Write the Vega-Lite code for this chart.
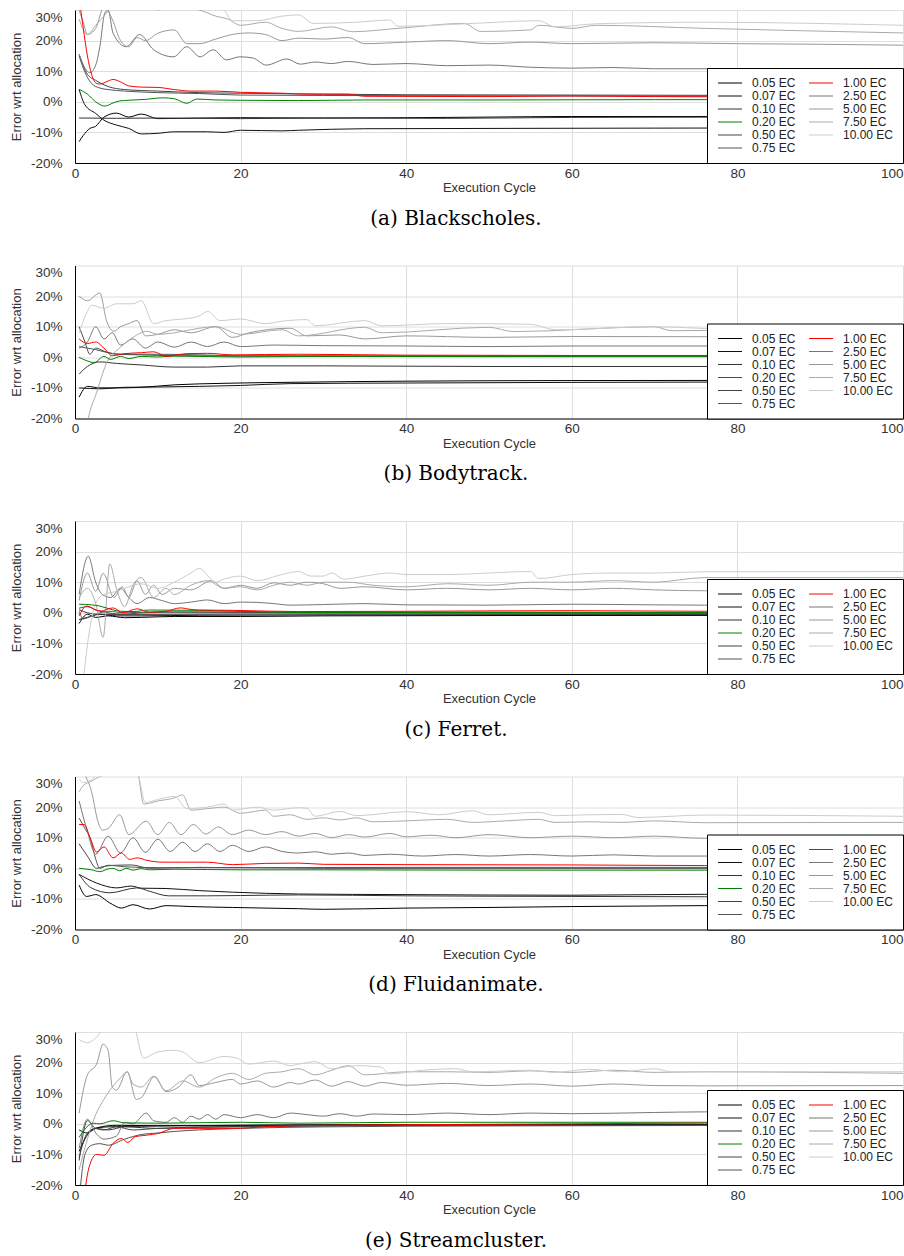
{
"$schema":"https://vega.github.io/schema/vega-lite/v6.json",
"padding":{"top":10,"left":10,"right":0,"bottom":0},
"spacing":36.5,
"config":{
"font":"Liberation Sans",
"view":{"stroke":null},
"axis":{"labelFont":"Liberation Sans","labelFontSize":13.5,"labelColor":"#333","titleFont":"Liberation Sans","titleFontSize":13,"titleFontWeight":"normal","titleColor":"#333","gridColor":"#dedede","gridWidth":1,"domainColor":"#000","domainWidth":1,"ticks":false,"tickSize":0},
"legend":{"orient":"bottom-right","offset":0,"columns":2,"labelFont":"Liberation Sans","labelFontSize":12,"labelColor":"#222","symbolType":"M-3,0H3","symbolSize":64,"symbolOffset":8,"rowPadding":1,"columnPadding":11,"labelOffset":16,"padding":9,"strokeColor":"#000","fillColor":"#fff","cornerRadius":0},
"title":{"font":"DejaVu Serif","fontSize":20,"fontWeight":"normal","color":"#000","orient":"bottom","anchor":"middle","frame":"group","offset":14,"dx":-33}
},
"resolve":{"scale":{"color":"independent","strokeWidth":"independent"},"legend":{"color":"independent"}},
"datasets":{
"a":[
{"s":"0.05 EC","x":0.5,"y":-13},{"s":"0.05 EC","x":1,"y":-11},{"s":"0.05 EC","x":1.8,"y":-8.7},{"s":"0.05 EC","x":2.5,"y":-8},{"s":"0.05 EC","x":3.5,"y":-5},{"s":"0.05 EC","x":5,"y":-3.7},{"s":"0.05 EC","x":6.5,"y":-5},{"s":"0.05 EC","x":8,"y":-4},{"s":"0.05 EC","x":10,"y":-5.5},{"s":"0.05 EC","x":15,"y":-5.3},{"s":"0.05 EC","x":20,"y":-5.2},{"s":"0.05 EC","x":30,"y":-5.3},{"s":"0.05 EC","x":40,"y":-5.2},{"s":"0.05 EC","x":50,"y":-5},{"s":"0.05 EC","x":60,"y":-4.8},{"s":"0.05 EC","x":80,"y":-4.8},{"s":"0.05 EC","x":100,"y":-4.8},
{"s":"0.07 EC","x":0.5,"y":4},{"s":"0.07 EC","x":1.2,"y":-1},{"s":"0.07 EC","x":2.5,"y":-3.8},{"s":"0.07 EC","x":3.5,"y":-6},{"s":"0.07 EC","x":5,"y":-7.6},{"s":"0.07 EC","x":6.5,"y":-8.7},{"s":"0.07 EC","x":8,"y":-10.5},{"s":"0.07 EC","x":10,"y":-10.3},{"s":"0.07 EC","x":12,"y":-9.8},{"s":"0.07 EC","x":16,"y":-9.8},{"s":"0.07 EC","x":18,"y":-10},{"s":"0.07 EC","x":20,"y":-9.3},{"s":"0.07 EC","x":25,"y":-9.5},{"s":"0.07 EC","x":27,"y":-9.3},{"s":"0.07 EC","x":35,"y":-8.8},{"s":"0.07 EC","x":50,"y":-8.7},{"s":"0.07 EC","x":70,"y":-8.6},{"s":"0.07 EC","x":100,"y":-8.5},
{"s":"0.10 EC","x":0.5,"y":-5.3},{"s":"0.10 EC","x":5,"y":-5.4},{"s":"0.10 EC","x":10,"y":-5.3},{"s":"0.10 EC","x":20,"y":-5.5},{"s":"0.10 EC","x":30,"y":-5.3},{"s":"0.10 EC","x":45,"y":-5.4},{"s":"0.10 EC","x":60,"y":-5.1},{"s":"0.10 EC","x":80,"y":-5},{"s":"0.10 EC","x":100,"y":-5},
{"s":"0.20 EC","x":0.5,"y":4.1},{"s":"0.20 EC","x":1.5,"y":2.5},{"s":"0.20 EC","x":2.5,"y":0},{"s":"0.20 EC","x":3.6,"y":-1.4},{"s":"0.20 EC","x":4.5,"y":-0.5},{"s":"0.20 EC","x":5.4,"y":0.3},{"s":"0.20 EC","x":6.5,"y":0.5},{"s":"0.20 EC","x":8.5,"y":0.8},{"s":"0.20 EC","x":10.6,"y":1.3},{"s":"0.20 EC","x":12,"y":1},{"s":"0.20 EC","x":13.5,"y":-0.5},{"s":"0.20 EC","x":14.7,"y":0.9},{"s":"0.20 EC","x":17,"y":0.6},{"s":"0.20 EC","x":20,"y":0.5},{"s":"0.20 EC","x":27,"y":0.4},{"s":"0.20 EC","x":35,"y":0.6},{"s":"0.20 EC","x":50,"y":0.6},{"s":"0.20 EC","x":70,"y":0.7},{"s":"0.20 EC","x":100,"y":0.7},
{"s":"0.50 EC","x":0.5,"y":15.5},{"s":"0.50 EC","x":1.5,"y":9},{"s":"0.50 EC","x":2.5,"y":7},{"s":"0.50 EC","x":4,"y":5},{"s":"0.50 EC","x":6,"y":4},{"s":"0.50 EC","x":10,"y":3.5},{"s":"0.50 EC","x":15,"y":3},{"s":"0.50 EC","x":20,"y":2.8},{"s":"0.50 EC","x":30,"y":2.5},{"s":"0.50 EC","x":40,"y":2.3},{"s":"0.50 EC","x":60,"y":2.2},{"s":"0.50 EC","x":100,"y":2},
{"s":"0.75 EC","x":0.5,"y":15},{"s":"0.75 EC","x":1,"y":11},{"s":"0.75 EC","x":1.5,"y":8},{"s":"0.75 EC","x":2,"y":6},{"s":"0.75 EC","x":3,"y":4.5},{"s":"0.75 EC","x":4,"y":4},{"s":"0.75 EC","x":6,"y":3.5},{"s":"0.75 EC","x":10,"y":3},{"s":"0.75 EC","x":15,"y":2.7},{"s":"0.75 EC","x":20,"y":2.2},{"s":"0.75 EC","x":40,"y":2},{"s":"0.75 EC","x":100,"y":1.8},
{"s":"1.00 EC","x":0.5,"y":34},{"s":"1.00 EC","x":1,"y":24},{"s":"1.00 EC","x":1.5,"y":15},{"s":"1.00 EC","x":2,"y":9},{"s":"1.00 EC","x":2.6,"y":6},{"s":"1.00 EC","x":3,"y":5.8},{"s":"1.00 EC","x":4,"y":6.8},{"s":"1.00 EC","x":4.6,"y":7.3},{"s":"1.00 EC","x":5.5,"y":6.5},{"s":"1.00 EC","x":6.5,"y":5.2},{"s":"1.00 EC","x":8,"y":4.8},{"s":"1.00 EC","x":10,"y":4.7},{"s":"1.00 EC","x":12,"y":4},{"s":"1.00 EC","x":14,"y":3.5},{"s":"1.00 EC","x":17,"y":3.5},{"s":"1.00 EC","x":20,"y":3.1},{"s":"1.00 EC","x":25,"y":2.8},{"s":"1.00 EC","x":28,"y":2.5},{"s":"1.00 EC","x":33,"y":2.5},{"s":"1.00 EC","x":35,"y":1.8},{"s":"1.00 EC","x":50,"y":1.7},{"s":"1.00 EC","x":60,"y":1.9},{"s":"1.00 EC","x":70,"y":1.7},{"s":"1.00 EC","x":80,"y":1.6},{"s":"1.00 EC","x":100,"y":1.6},
{"s":"2.50 EC","x":0.5,"y":15.5},{"s":"2.50 EC","x":1.2,"y":11},{"s":"2.50 EC","x":1.8,"y":9.5},{"s":"2.50 EC","x":2.5,"y":12},{"s":"2.50 EC","x":3,"y":18},{"s":"2.50 EC","x":3.6,"y":29},{"s":"2.50 EC","x":4,"y":30},{"s":"2.50 EC","x":4.6,"y":22.4},{"s":"2.50 EC","x":6.2,"y":18},{"s":"2.50 EC","x":7.8,"y":22},{"s":"2.50 EC","x":9.5,"y":17},{"s":"2.50 EC","x":11.9,"y":14.7},{"s":"2.50 EC","x":13.5,"y":18},{"s":"2.50 EC","x":15.1,"y":14.7},{"s":"2.50 EC","x":16.7,"y":17},{"s":"2.50 EC","x":18.3,"y":13.7},{"s":"2.50 EC","x":19.9,"y":14.7},{"s":"2.50 EC","x":21.5,"y":14.3},{"s":"2.50 EC","x":23.1,"y":12},{"s":"2.50 EC","x":25.6,"y":14},{"s":"2.50 EC","x":27.2,"y":12.3},{"s":"2.50 EC","x":29,"y":13},{"s":"2.50 EC","x":31,"y":12.5},{"s":"2.50 EC","x":33,"y":13.2},{"s":"2.50 EC","x":36,"y":12.2},{"s":"2.50 EC","x":40,"y":12.5},{"s":"2.50 EC","x":45,"y":11.8},{"s":"2.50 EC","x":50,"y":12},{"s":"2.50 EC","x":55,"y":11.3},{"s":"2.50 EC","x":60,"y":11},{"s":"2.50 EC","x":65,"y":11.2},{"s":"2.50 EC","x":70,"y":10.8},{"s":"2.50 EC","x":76,"y":10.8},{"s":"2.50 EC","x":85,"y":10.5},{"s":"2.50 EC","x":100,"y":10.5},
{"s":"5.00 EC","x":0.5,"y":30},{"s":"5.00 EC","x":1,"y":26},{"s":"5.00 EC","x":1.5,"y":22},{"s":"5.00 EC","x":2.5,"y":24},{"s":"5.00 EC","x":3.5,"y":31},{"s":"5.00 EC","x":4.5,"y":27},{"s":"5.00 EC","x":5.5,"y":20},{"s":"5.00 EC","x":6.5,"y":18},{"s":"5.00 EC","x":7.5,"y":21},{"s":"5.00 EC","x":8.5,"y":20},{"s":"5.00 EC","x":10,"y":22.4},{"s":"5.00 EC","x":12,"y":23.5},{"s":"5.00 EC","x":13.5,"y":19},{"s":"5.00 EC","x":15,"y":19},{"s":"5.00 EC","x":17,"y":20.5},{"s":"5.00 EC","x":19,"y":22},{"s":"5.00 EC","x":21,"y":22.5},{"s":"5.00 EC","x":23,"y":22},{"s":"5.00 EC","x":25,"y":20},{"s":"5.00 EC","x":27,"y":20.8},{"s":"5.00 EC","x":30,"y":20.5},{"s":"5.00 EC","x":33,"y":21},{"s":"5.00 EC","x":35,"y":19},{"s":"5.00 EC","x":40,"y":19.5},{"s":"5.00 EC","x":45,"y":20},{"s":"5.00 EC","x":50,"y":19},{"s":"5.00 EC","x":55,"y":19.5},{"s":"5.00 EC","x":60,"y":19},{"s":"5.00 EC","x":70,"y":19.3},{"s":"5.00 EC","x":80,"y":19},{"s":"5.00 EC","x":90,"y":18.8},{"s":"5.00 EC","x":100,"y":18.5},
{"s":"7.50 EC","x":0.5,"y":27},{"s":"7.50 EC","x":1.5,"y":22},{"s":"7.50 EC","x":2.5,"y":25},{"s":"7.50 EC","x":3.5,"y":28},{"s":"7.50 EC","x":4.5,"y":31},{"s":"7.50 EC","x":8,"y":31},{"s":"7.50 EC","x":10,"y":30},{"s":"7.50 EC","x":12,"y":31},{"s":"7.50 EC","x":15,"y":30},{"s":"7.50 EC","x":17,"y":28},{"s":"7.50 EC","x":18.5,"y":27},{"s":"7.50 EC","x":20,"y":25},{"s":"7.50 EC","x":23,"y":26},{"s":"7.50 EC","x":25,"y":24},{"s":"7.50 EC","x":27,"y":23},{"s":"7.50 EC","x":31,"y":24.5},{"s":"7.50 EC","x":33.5,"y":22.9},{"s":"7.50 EC","x":39,"y":24},{"s":"7.50 EC","x":47,"y":25.6},{"s":"7.50 EC","x":49,"y":23},{"s":"7.50 EC","x":55,"y":23.5},{"s":"7.50 EC","x":56,"y":25},{"s":"7.50 EC","x":60,"y":24},{"s":"7.50 EC","x":63,"y":25},{"s":"7.50 EC","x":76,"y":24},{"s":"7.50 EC","x":100,"y":22.5},
{"s":"10.00 EC","x":0.5,"y":35},{"s":"10.00 EC","x":3,"y":33},{"s":"10.00 EC","x":6,"y":32},{"s":"10.00 EC","x":10,"y":31},{"s":"10.00 EC","x":15,"y":33},{"s":"10.00 EC","x":18,"y":30},{"s":"10.00 EC","x":19,"y":26.5},{"s":"10.00 EC","x":22,"y":26.5},{"s":"10.00 EC","x":25,"y":28},{"s":"10.00 EC","x":27,"y":28.4},{"s":"10.00 EC","x":28.8,"y":25.6},{"s":"10.00 EC","x":34,"y":26},{"s":"10.00 EC","x":38,"y":26.7},{"s":"10.00 EC","x":39,"y":24.7},{"s":"10.00 EC","x":48,"y":25.6},{"s":"10.00 EC","x":56,"y":26.5},{"s":"10.00 EC","x":58,"y":24.5},{"s":"10.00 EC","x":63,"y":25.5},{"s":"10.00 EC","x":76,"y":26},{"s":"10.00 EC","x":100,"y":25}
],
"b":[
{"s":"0.05 EC","x":0.5,"y":-13},{"s":"0.05 EC","x":1.5,"y":-9.5},{"s":"0.05 EC","x":3,"y":-10},{"s":"0.05 EC","x":5,"y":-10},{"s":"0.05 EC","x":8,"y":-9.8},{"s":"0.05 EC","x":12,"y":-9},{"s":"0.05 EC","x":18,"y":-8.5},{"s":"0.05 EC","x":25,"y":-8.2},{"s":"0.05 EC","x":40,"y":-7.8},{"s":"0.05 EC","x":60,"y":-7.6},{"s":"0.05 EC","x":100,"y":-7.5},
{"s":"0.07 EC","x":0.5,"y":-10},{"s":"0.07 EC","x":3,"y":-10.3},{"s":"0.07 EC","x":6,"y":-9.8},{"s":"0.07 EC","x":10,"y":-9.7},{"s":"0.07 EC","x":15,"y":-9.5},{"s":"0.07 EC","x":20,"y":-9.2},{"s":"0.07 EC","x":26,"y":-8.6},{"s":"0.07 EC","x":40,"y":-8.4},{"s":"0.07 EC","x":60,"y":-8.2},{"s":"0.07 EC","x":100,"y":-8},
{"s":"0.10 EC","x":0.5,"y":-5.5},{"s":"0.10 EC","x":1.5,"y":-3},{"s":"0.10 EC","x":3,"y":-1.5},{"s":"0.10 EC","x":5,"y":-2},{"s":"0.10 EC","x":8,"y":-2.5},{"s":"0.10 EC","x":12,"y":-3.2},{"s":"0.10 EC","x":16,"y":-3.2},{"s":"0.10 EC","x":20,"y":-2.8},{"s":"0.10 EC","x":30,"y":-2.8},{"s":"0.10 EC","x":50,"y":-3},{"s":"0.10 EC","x":100,"y":-3},
{"s":"0.20 EC","x":0.5,"y":0},{"s":"0.20 EC","x":1.3,"y":-1},{"s":"0.20 EC","x":2.3,"y":-1.7},{"s":"0.20 EC","x":3.5,"y":0.3},{"s":"0.20 EC","x":4.3,"y":-0.7},{"s":"0.20 EC","x":5.5,"y":0.3},{"s":"0.20 EC","x":6.5,"y":-0.4},{"s":"0.20 EC","x":8,"y":0.3},{"s":"0.20 EC","x":10,"y":0.1},{"s":"0.20 EC","x":12,"y":0.4},{"s":"0.20 EC","x":15,"y":0.3},{"s":"0.20 EC","x":20,"y":0.1},{"s":"0.20 EC","x":30,"y":0.3},{"s":"0.20 EC","x":50,"y":0.2},{"s":"0.20 EC","x":100,"y":0.2},
{"s":"0.50 EC","x":0.5,"y":10},{"s":"0.50 EC","x":1.2,"y":5},{"s":"0.50 EC","x":1.8,"y":1},{"s":"0.50 EC","x":2.5,"y":3},{"s":"0.50 EC","x":3.5,"y":2},{"s":"0.50 EC","x":5,"y":1},{"s":"0.50 EC","x":8,"y":0.8},{"s":"0.50 EC","x":12,"y":0.5},{"s":"0.50 EC","x":20,"y":0.4},{"s":"0.50 EC","x":40,"y":0.3},{"s":"0.50 EC","x":100,"y":0.3},
{"s":"0.75 EC","x":0.5,"y":3.5},{"s":"0.75 EC","x":1.5,"y":3},{"s":"0.75 EC","x":2.5,"y":2.5},{"s":"0.75 EC","x":4,"y":1.5},{"s":"0.75 EC","x":6,"y":1},{"s":"0.75 EC","x":10,"y":1},{"s":"0.75 EC","x":15,"y":0.8},{"s":"0.75 EC","x":20,"y":0.5},{"s":"0.75 EC","x":100,"y":0.4},
{"s":"1.00 EC","x":0.5,"y":6},{"s":"1.00 EC","x":1.5,"y":4.5},{"s":"1.00 EC","x":2.5,"y":5},{"s":"1.00 EC","x":3.5,"y":3},{"s":"1.00 EC","x":4.5,"y":0.5},{"s":"1.00 EC","x":6,"y":1.2},{"s":"1.00 EC","x":8,"y":1.5},{"s":"1.00 EC","x":9.5,"y":1.8},{"s":"1.00 EC","x":11,"y":0.3},{"s":"1.00 EC","x":13.5,"y":1.2},{"s":"1.00 EC","x":16,"y":1.3},{"s":"1.00 EC","x":19,"y":0.8},{"s":"1.00 EC","x":27,"y":1},{"s":"1.00 EC","x":40,"y":0.7},{"s":"1.00 EC","x":60,"y":0.6},{"s":"1.00 EC","x":100,"y":0.6},
{"s":"2.50 EC","x":0.5,"y":3},{"s":"2.50 EC","x":1.5,"y":5},{"s":"2.50 EC","x":2.5,"y":10},{"s":"2.50 EC","x":3.5,"y":6},{"s":"2.50 EC","x":4.5,"y":8},{"s":"2.50 EC","x":5.5,"y":4},{"s":"2.50 EC","x":7,"y":6},{"s":"2.50 EC","x":8.5,"y":3},{"s":"2.50 EC","x":10,"y":5},{"s":"2.50 EC","x":12,"y":3.3},{"s":"2.50 EC","x":14,"y":5},{"s":"2.50 EC","x":16,"y":3.5},{"s":"2.50 EC","x":18,"y":5},{"s":"2.50 EC","x":20,"y":3.5},{"s":"2.50 EC","x":24,"y":4},{"s":"2.50 EC","x":30,"y":3.8},{"s":"2.50 EC","x":40,"y":3.7},{"s":"2.50 EC","x":50,"y":3.5},{"s":"2.50 EC","x":60,"y":3.7},{"s":"2.50 EC","x":100,"y":3.7},
{"s":"5.00 EC","x":0.5,"y":20},{"s":"5.00 EC","x":1.5,"y":18.5},{"s":"5.00 EC","x":3,"y":21},{"s":"5.00 EC","x":3.8,"y":12},{"s":"5.00 EC","x":4.7,"y":8.5},{"s":"5.00 EC","x":5.5,"y":10},{"s":"5.00 EC","x":6.5,"y":11},{"s":"5.00 EC","x":7.5,"y":12},{"s":"5.00 EC","x":8.5,"y":7},{"s":"5.00 EC","x":10,"y":7.5},{"s":"5.00 EC","x":12,"y":9},{"s":"5.00 EC","x":14,"y":8},{"s":"5.00 EC","x":17,"y":10},{"s":"5.00 EC","x":19,"y":6.5},{"s":"5.00 EC","x":21,"y":8},{"s":"5.00 EC","x":26,"y":9.5},{"s":"5.00 EC","x":28,"y":7},{"s":"5.00 EC","x":32,"y":7.3},{"s":"5.00 EC","x":35,"y":6},{"s":"5.00 EC","x":40,"y":7},{"s":"5.00 EC","x":50,"y":6.5},{"s":"5.00 EC","x":60,"y":6.8},{"s":"5.00 EC","x":100,"y":6.5},
{"s":"7.50 EC","x":0.5,"y":-40},{"s":"7.50 EC","x":1.6,"y":-20},{"s":"7.50 EC","x":2.6,"y":-11.6},{"s":"7.50 EC","x":3.8,"y":-2},{"s":"7.50 EC","x":5.5,"y":3.3},{"s":"7.50 EC","x":7,"y":6.5},{"s":"7.50 EC","x":8.7,"y":8.5},{"s":"7.50 EC","x":10,"y":7.5},{"s":"7.50 EC","x":12,"y":8},{"s":"7.50 EC","x":15,"y":9.5},{"s":"7.50 EC","x":17,"y":10},{"s":"7.50 EC","x":20,"y":7.5},{"s":"7.50 EC","x":25,"y":9},{"s":"7.50 EC","x":27,"y":7},{"s":"7.50 EC","x":35,"y":9.8},{"s":"7.50 EC","x":37,"y":8},{"s":"7.50 EC","x":50,"y":9.8},{"s":"7.50 EC","x":53,"y":8.4},{"s":"7.50 EC","x":70,"y":10},{"s":"7.50 EC","x":72,"y":8.7},{"s":"7.50 EC","x":100,"y":10},
{"s":"10.00 EC","x":0.5,"y":8},{"s":"10.00 EC","x":1.5,"y":15},{"s":"10.00 EC","x":2,"y":17},{"s":"10.00 EC","x":3.5,"y":16},{"s":"10.00 EC","x":5,"y":17.5},{"s":"10.00 EC","x":7,"y":17.5},{"s":"10.00 EC","x":8,"y":18.5},{"s":"10.00 EC","x":9.5,"y":11},{"s":"10.00 EC","x":11,"y":12},{"s":"10.00 EC","x":13,"y":12.5},{"s":"10.00 EC","x":15,"y":13.5},{"s":"10.00 EC","x":16,"y":15},{"s":"10.00 EC","x":17.5,"y":12},{"s":"10.00 EC","x":20,"y":12.5},{"s":"10.00 EC","x":23,"y":11},{"s":"10.00 EC","x":25,"y":11.8},{"s":"10.00 EC","x":28,"y":12.3},{"s":"10.00 EC","x":29,"y":10.3},{"s":"10.00 EC","x":35,"y":12},{"s":"10.00 EC","x":37,"y":10.3},{"s":"10.00 EC","x":45,"y":11},{"s":"10.00 EC","x":55,"y":10.8},{"s":"10.00 EC","x":58,"y":9},{"s":"10.00 EC","x":70,"y":10},{"s":"10.00 EC","x":78,"y":9.3},{"s":"10.00 EC","x":90,"y":10.3},{"s":"10.00 EC","x":100,"y":10}
],
"c":[
{"s":"0.05 EC","x":0.5,"y":-3.5},{"s":"0.05 EC","x":1.5,"y":-0.5},{"s":"0.05 EC","x":2.5,"y":-1.5},{"s":"0.05 EC","x":4,"y":-1},{"s":"0.05 EC","x":6,"y":-1.6},{"s":"0.05 EC","x":8,"y":-1.5},{"s":"0.05 EC","x":12,"y":-1.2},{"s":"0.05 EC","x":20,"y":-1.2},{"s":"0.05 EC","x":30,"y":-1},{"s":"0.05 EC","x":50,"y":-0.9},{"s":"0.05 EC","x":100,"y":-0.8},
{"s":"0.07 EC","x":0.5,"y":-2.2},{"s":"0.07 EC","x":1.5,"y":-1.5},{"s":"0.07 EC","x":3,"y":-0.5},{"s":"0.07 EC","x":5,"y":-1},{"s":"0.07 EC","x":8,"y":-1},{"s":"0.07 EC","x":15,"y":-0.8},{"s":"0.07 EC","x":30,"y":-0.7},{"s":"0.07 EC","x":100,"y":-0.6},
{"s":"0.10 EC","x":0.5,"y":1},{"s":"0.10 EC","x":1.5,"y":0},{"s":"0.10 EC","x":3,"y":-0.5},{"s":"0.10 EC","x":6,"y":-0.5},{"s":"0.10 EC","x":10,"y":-0.5},{"s":"0.10 EC","x":20,"y":-0.4},{"s":"0.10 EC","x":100,"y":-0.4},
{"s":"0.20 EC","x":0.5,"y":2.8},{"s":"0.20 EC","x":2,"y":2.6},{"s":"0.20 EC","x":3,"y":2.2},{"s":"0.20 EC","x":4.5,"y":1},{"s":"0.20 EC","x":5.5,"y":0.5},{"s":"0.20 EC","x":7,"y":0.4},{"s":"0.20 EC","x":9,"y":0.9},{"s":"0.20 EC","x":15,"y":0.8},{"s":"0.20 EC","x":20,"y":0.5},{"s":"0.20 EC","x":27,"y":0.1},{"s":"0.20 EC","x":40,"y":0.1},{"s":"0.20 EC","x":60,"y":0.1},{"s":"0.20 EC","x":100,"y":0},
{"s":"0.50 EC","x":0.5,"y":1.5},{"s":"0.50 EC","x":1.5,"y":2},{"s":"0.50 EC","x":2.5,"y":1},{"s":"0.50 EC","x":4,"y":0},{"s":"0.50 EC","x":6,"y":-0.5},{"s":"0.50 EC","x":8,"y":0},{"s":"0.50 EC","x":12,"y":0.2},{"s":"0.50 EC","x":30,"y":0},{"s":"0.50 EC","x":100,"y":-0.2},
{"s":"0.75 EC","x":0.5,"y":0.5},{"s":"0.75 EC","x":1,"y":-2},{"s":"0.75 EC","x":2,"y":-1},{"s":"0.75 EC","x":4,"y":0.5},{"s":"0.75 EC","x":6,"y":0},{"s":"0.75 EC","x":10,"y":0.3},{"s":"0.75 EC","x":100,"y":0},
{"s":"1.00 EC","x":0.5,"y":-1},{"s":"1.00 EC","x":1.4,"y":2.2},{"s":"1.00 EC","x":3,"y":0.5},{"s":"1.00 EC","x":4.6,"y":1.6},{"s":"1.00 EC","x":5.8,"y":0},{"s":"1.00 EC","x":7.5,"y":1.3},{"s":"1.00 EC","x":9,"y":0.2},{"s":"1.00 EC","x":11,"y":0.5},{"s":"1.00 EC","x":12.7,"y":1.6},{"s":"1.00 EC","x":14,"y":1.1},{"s":"1.00 EC","x":15,"y":0.9},{"s":"1.00 EC","x":19,"y":0.8},{"s":"1.00 EC","x":27,"y":0.4},{"s":"1.00 EC","x":40,"y":0.5},{"s":"1.00 EC","x":60,"y":0.7},{"s":"1.00 EC","x":76,"y":0.5},{"s":"1.00 EC","x":100,"y":0.5},
{"s":"2.50 EC","x":0.5,"y":6},{"s":"2.50 EC","x":1.6,"y":18.5},{"s":"2.50 EC","x":2.5,"y":10},{"s":"2.50 EC","x":3.3,"y":6},{"s":"2.50 EC","x":4.3,"y":5},{"s":"2.50 EC","x":5.5,"y":8},{"s":"2.50 EC","x":6.5,"y":5},{"s":"2.50 EC","x":7.5,"y":3},{"s":"2.50 EC","x":9,"y":5},{"s":"2.50 EC","x":10.5,"y":4},{"s":"2.50 EC","x":12,"y":3},{"s":"2.50 EC","x":14,"y":3.5},{"s":"2.50 EC","x":16,"y":4.2},{"s":"2.50 EC","x":18,"y":3},{"s":"2.50 EC","x":20,"y":3.5},{"s":"2.50 EC","x":22,"y":3.4},{"s":"2.50 EC","x":24,"y":3},{"s":"2.50 EC","x":26,"y":2.5},{"s":"2.50 EC","x":30,"y":2.7},{"s":"2.50 EC","x":35,"y":3},{"s":"2.50 EC","x":40,"y":2.6},{"s":"2.50 EC","x":50,"y":2.5},{"s":"2.50 EC","x":60,"y":2.8},{"s":"2.50 EC","x":70,"y":2.6},{"s":"2.50 EC","x":76,"y":2.5},{"s":"2.50 EC","x":100,"y":2.5},
{"s":"5.00 EC","x":0.5,"y":4},{"s":"5.00 EC","x":1.5,"y":13},{"s":"5.00 EC","x":2.5,"y":7},{"s":"5.00 EC","x":3.4,"y":12.9},{"s":"5.00 EC","x":4.7,"y":5},{"s":"5.00 EC","x":5.7,"y":8.5},{"s":"5.00 EC","x":6.5,"y":5},{"s":"5.00 EC","x":7.5,"y":10.5},{"s":"5.00 EC","x":8.5,"y":6},{"s":"5.00 EC","x":9.5,"y":9},{"s":"5.00 EC","x":10.5,"y":6},{"s":"5.00 EC","x":12,"y":8},{"s":"5.00 EC","x":14,"y":7.5},{"s":"5.00 EC","x":16.5,"y":10.5},{"s":"5.00 EC","x":18,"y":8},{"s":"5.00 EC","x":20,"y":9},{"s":"5.00 EC","x":22,"y":8},{"s":"5.00 EC","x":24,"y":9.8},{"s":"5.00 EC","x":26,"y":9},{"s":"5.00 EC","x":28,"y":10},{"s":"5.00 EC","x":30,"y":9.5},{"s":"5.00 EC","x":32,"y":8},{"s":"5.00 EC","x":35,"y":8.5},{"s":"5.00 EC","x":40,"y":7.5},{"s":"5.00 EC","x":45,"y":8},{"s":"5.00 EC","x":50,"y":7.5},{"s":"5.00 EC","x":55,"y":8},{"s":"5.00 EC","x":60,"y":7.5},{"s":"5.00 EC","x":65,"y":8},{"s":"5.00 EC","x":70,"y":7.5},{"s":"5.00 EC","x":76,"y":7.2},{"s":"5.00 EC","x":100,"y":7.5},
{"s":"7.50 EC","x":0.5,"y":5},{"s":"7.50 EC","x":1.5,"y":8},{"s":"7.50 EC","x":2.5,"y":3},{"s":"7.50 EC","x":3.4,"y":-8},{"s":"7.50 EC","x":4.2,"y":16},{"s":"7.50 EC","x":5,"y":8},{"s":"7.50 EC","x":6,"y":2},{"s":"7.50 EC","x":7,"y":9},{"s":"7.50 EC","x":8,"y":11.5},{"s":"7.50 EC","x":9.5,"y":5},{"s":"7.50 EC","x":11,"y":8},{"s":"7.50 EC","x":12,"y":6},{"s":"7.50 EC","x":14,"y":9},{"s":"7.50 EC","x":16,"y":10.5},{"s":"7.50 EC","x":18,"y":8},{"s":"7.50 EC","x":20,"y":8.5},{"s":"7.50 EC","x":22,"y":7.5},{"s":"7.50 EC","x":24,"y":9},{"s":"7.50 EC","x":26,"y":10},{"s":"7.50 EC","x":28,"y":9},{"s":"7.50 EC","x":30,"y":10},{"s":"7.50 EC","x":33,"y":10},{"s":"7.50 EC","x":36,"y":9},{"s":"7.50 EC","x":40,"y":8.5},{"s":"7.50 EC","x":45,"y":9.5},{"s":"7.50 EC","x":50,"y":9},{"s":"7.50 EC","x":55,"y":10},{"s":"7.50 EC","x":60,"y":10},{"s":"7.50 EC","x":65,"y":10.5},{"s":"7.50 EC","x":70,"y":10},{"s":"7.50 EC","x":76,"y":11.5},{"s":"7.50 EC","x":100,"y":11.5},
{"s":"10.00 EC","x":0.5,"y":-40},{"s":"10.00 EC","x":1.1,"y":-20},{"s":"10.00 EC","x":1.8,"y":-5},{"s":"10.00 EC","x":2.5,"y":3},{"s":"10.00 EC","x":3.5,"y":6},{"s":"10.00 EC","x":5,"y":7},{"s":"10.00 EC","x":6,"y":8},{"s":"10.00 EC","x":7,"y":9},{"s":"10.00 EC","x":8,"y":9.5},{"s":"10.00 EC","x":10,"y":8},{"s":"10.00 EC","x":12,"y":10},{"s":"10.00 EC","x":14,"y":13},{"s":"10.00 EC","x":15,"y":14.5},{"s":"10.00 EC","x":17,"y":10},{"s":"10.00 EC","x":18,"y":11},{"s":"10.00 EC","x":20,"y":12},{"s":"10.00 EC","x":22,"y":10.5},{"s":"10.00 EC","x":25,"y":12.5},{"s":"10.00 EC","x":27,"y":13.5},{"s":"10.00 EC","x":28.5,"y":12},{"s":"10.00 EC","x":30,"y":12},{"s":"10.00 EC","x":31,"y":13},{"s":"10.00 EC","x":32.5,"y":11},{"s":"10.00 EC","x":35,"y":12},{"s":"10.00 EC","x":38,"y":13},{"s":"10.00 EC","x":40,"y":12.5},{"s":"10.00 EC","x":45,"y":12.5},{"s":"10.00 EC","x":50,"y":13},{"s":"10.00 EC","x":55,"y":13.5},{"s":"10.00 EC","x":56,"y":11.2},{"s":"10.00 EC","x":60,"y":12.5},{"s":"10.00 EC","x":65,"y":13},{"s":"10.00 EC","x":70,"y":13},{"s":"10.00 EC","x":76,"y":13.4},{"s":"10.00 EC","x":100,"y":13.5}
],
"d":[
{"s":"0.05 EC","x":0.5,"y":-5.5},{"s":"0.05 EC","x":1.4,"y":-9.2},{"s":"0.05 EC","x":2.5,"y":-8.6},{"s":"0.05 EC","x":4.2,"y":-11.3},{"s":"0.05 EC","x":5.6,"y":-13},{"s":"0.05 EC","x":7,"y":-11.9},{"s":"0.05 EC","x":9,"y":-13.3},{"s":"0.05 EC","x":11,"y":-12.2},{"s":"0.05 EC","x":14,"y":-12.5},{"s":"0.05 EC","x":19,"y":-12.8},{"s":"0.05 EC","x":27,"y":-13.2},{"s":"0.05 EC","x":30,"y":-13.4},{"s":"0.05 EC","x":40,"y":-13},{"s":"0.05 EC","x":50,"y":-12.8},{"s":"0.05 EC","x":60,"y":-12.5},{"s":"0.05 EC","x":76,"y":-12.2},{"s":"0.05 EC","x":100,"y":-12},
{"s":"0.07 EC","x":0.5,"y":-2},{"s":"0.07 EC","x":2.6,"y":-4.8},{"s":"0.07 EC","x":5,"y":-6.4},{"s":"0.07 EC","x":6.8,"y":-5.8},{"s":"0.07 EC","x":8,"y":-6.5},{"s":"0.07 EC","x":11,"y":-6.6},{"s":"0.07 EC","x":15,"y":-7.3},{"s":"0.07 EC","x":19,"y":-7.8},{"s":"0.07 EC","x":27,"y":-8.4},{"s":"0.07 EC","x":40,"y":-8.6},{"s":"0.07 EC","x":60,"y":-8.8},{"s":"0.07 EC","x":76,"y":-8.5},{"s":"0.07 EC","x":100,"y":-8.5},
{"s":"0.10 EC","x":0.5,"y":-2},{"s":"0.10 EC","x":1.9,"y":-6.3},{"s":"0.10 EC","x":4.2,"y":-8},{"s":"0.10 EC","x":7.5,"y":-6.4},{"s":"0.10 EC","x":9,"y":-7.5},{"s":"0.10 EC","x":11.3,"y":-9},{"s":"0.10 EC","x":16,"y":-9},{"s":"0.10 EC","x":20,"y":-8.9},{"s":"0.10 EC","x":27,"y":-8.7},{"s":"0.10 EC","x":40,"y":-9},{"s":"0.10 EC","x":60,"y":-9.2},{"s":"0.10 EC","x":76,"y":-9.3},{"s":"0.10 EC","x":100,"y":-9.3},
{"s":"0.20 EC","x":0.5,"y":0},{"s":"0.20 EC","x":2,"y":-0.5},{"s":"0.20 EC","x":3,"y":-1.1},{"s":"0.20 EC","x":4,"y":-0.2},{"s":"0.20 EC","x":4.6,"y":0},{"s":"0.20 EC","x":5.4,"y":-0.8},{"s":"0.20 EC","x":6.2,"y":0},{"s":"0.20 EC","x":7,"y":-0.6},{"s":"0.20 EC","x":8,"y":-0.1},{"s":"0.20 EC","x":9,"y":-0.5},{"s":"0.20 EC","x":12,"y":-0.3},{"s":"0.20 EC","x":20,"y":-0.5},{"s":"0.20 EC","x":30,"y":-0.5},{"s":"0.20 EC","x":50,"y":-0.6},{"s":"0.20 EC","x":76,"y":-0.6},{"s":"0.20 EC","x":100,"y":-0.6},
{"s":"0.50 EC","x":0.5,"y":8},{"s":"0.50 EC","x":1.5,"y":4},{"s":"0.50 EC","x":2.6,"y":0},{"s":"0.50 EC","x":3.3,"y":0.5},{"s":"0.50 EC","x":5,"y":1},{"s":"0.50 EC","x":6.8,"y":1.1},{"s":"0.50 EC","x":9,"y":0},{"s":"0.50 EC","x":15,"y":0.3},{"s":"0.50 EC","x":30,"y":0},{"s":"0.50 EC","x":60,"y":0},{"s":"0.50 EC","x":100,"y":0},
{"s":"0.75 EC","x":0.5,"y":16.4},{"s":"0.75 EC","x":1.2,"y":13},{"s":"0.75 EC","x":1.9,"y":9.4},{"s":"0.75 EC","x":2.5,"y":3},{"s":"0.75 EC","x":3,"y":0},{"s":"0.75 EC","x":4,"y":1},{"s":"0.75 EC","x":6,"y":0.5},{"s":"0.75 EC","x":10,"y":0.2},{"s":"0.75 EC","x":20,"y":0.2},{"s":"0.75 EC","x":40,"y":0.3},{"s":"0.75 EC","x":100,"y":0.3},
{"s":"1.00 EC","x":0.5,"y":14.3},{"s":"1.00 EC","x":1.1,"y":14.3},{"s":"1.00 EC","x":1.9,"y":9.4},{"s":"1.00 EC","x":2.6,"y":5.3},{"s":"1.00 EC","x":3.5,"y":7},{"s":"1.00 EC","x":4.6,"y":3.4},{"s":"1.00 EC","x":5.6,"y":5},{"s":"1.00 EC","x":6.6,"y":2.9},{"s":"1.00 EC","x":7.5,"y":3.4},{"s":"1.00 EC","x":8.7,"y":2.6},{"s":"1.00 EC","x":10.6,"y":2},{"s":"1.00 EC","x":13,"y":2},{"s":"1.00 EC","x":16,"y":2},{"s":"1.00 EC","x":19,"y":1.2},{"s":"1.00 EC","x":23,"y":1.6},{"s":"1.00 EC","x":27,"y":1.7},{"s":"1.00 EC","x":30,"y":1.3},{"s":"1.00 EC","x":40,"y":1.2},{"s":"1.00 EC","x":60,"y":1.1},{"s":"1.00 EC","x":76,"y":0.9},{"s":"1.00 EC","x":100,"y":0.9},
{"s":"2.50 EC","x":0.5,"y":22},{"s":"2.50 EC","x":1.5,"y":12},{"s":"2.50 EC","x":2.5,"y":4.6},{"s":"2.50 EC","x":4,"y":10.5},{"s":"2.50 EC","x":5.5,"y":5},{"s":"2.50 EC","x":7,"y":10},{"s":"2.50 EC","x":8.5,"y":5.2},{"s":"2.50 EC","x":10,"y":9.5},{"s":"2.50 EC","x":11.5,"y":5.5},{"s":"2.50 EC","x":13,"y":8.5},{"s":"2.50 EC","x":14.5,"y":5.5},{"s":"2.50 EC","x":16,"y":8},{"s":"2.50 EC","x":17.5,"y":5.5},{"s":"2.50 EC","x":19,"y":7.5},{"s":"2.50 EC","x":21,"y":5.5},{"s":"2.50 EC","x":23,"y":7},{"s":"2.50 EC","x":25,"y":5.5},{"s":"2.50 EC","x":27,"y":5},{"s":"2.50 EC","x":29,"y":5.4},{"s":"2.50 EC","x":31,"y":4.6},{"s":"2.50 EC","x":33,"y":5},{"s":"2.50 EC","x":35,"y":4.2},{"s":"2.50 EC","x":38,"y":4.6},{"s":"2.50 EC","x":42,"y":4},{"s":"2.50 EC","x":46,"y":4.5},{"s":"2.50 EC","x":50,"y":4},{"s":"2.50 EC","x":55,"y":4.5},{"s":"2.50 EC","x":60,"y":4},{"s":"2.50 EC","x":65,"y":4.4},{"s":"2.50 EC","x":70,"y":4},{"s":"2.50 EC","x":76,"y":4},{"s":"2.50 EC","x":100,"y":4},
{"s":"5.00 EC","x":0.5,"y":36},{"s":"5.00 EC","x":1,"y":32},{"s":"5.00 EC","x":2,"y":25},{"s":"5.00 EC","x":2.8,"y":15},{"s":"5.00 EC","x":3.3,"y":12.5},{"s":"5.00 EC","x":4,"y":13},{"s":"5.00 EC","x":5.4,"y":17.5},{"s":"5.00 EC","x":6.5,"y":11},{"s":"5.00 EC","x":8.6,"y":15.4},{"s":"5.00 EC","x":10,"y":11},{"s":"5.00 EC","x":11.4,"y":15},{"s":"5.00 EC","x":12.8,"y":11},{"s":"5.00 EC","x":14.3,"y":14.3},{"s":"5.00 EC","x":15.8,"y":11.2},{"s":"5.00 EC","x":17.3,"y":13.5},{"s":"5.00 EC","x":19,"y":11},{"s":"5.00 EC","x":21,"y":12.5},{"s":"5.00 EC","x":23,"y":11},{"s":"5.00 EC","x":25,"y":12},{"s":"5.00 EC","x":27,"y":10.5},{"s":"5.00 EC","x":29,"y":11.4},{"s":"5.00 EC","x":31,"y":10},{"s":"5.00 EC","x":33,"y":11},{"s":"5.00 EC","x":35,"y":10.2},{"s":"5.00 EC","x":38,"y":11.4},{"s":"5.00 EC","x":40,"y":10.3},{"s":"5.00 EC","x":43,"y":10.8},{"s":"5.00 EC","x":46,"y":10},{"s":"5.00 EC","x":50,"y":11},{"s":"5.00 EC","x":55,"y":10},{"s":"5.00 EC","x":60,"y":10.5},{"s":"5.00 EC","x":65,"y":10},{"s":"5.00 EC","x":70,"y":10.5},{"s":"5.00 EC","x":76,"y":9.8},{"s":"5.00 EC","x":100,"y":10},
{"s":"7.50 EC","x":0.5,"y":25},{"s":"7.50 EC","x":1,"y":27},{"s":"7.50 EC","x":2,"y":28.5},{"s":"7.50 EC","x":3,"y":30},{"s":"7.50 EC","x":5,"y":31},{"s":"7.50 EC","x":7.5,"y":31.5},{"s":"7.50 EC","x":8.3,"y":21},{"s":"7.50 EC","x":10,"y":22},{"s":"7.50 EC","x":12,"y":23},{"s":"7.50 EC","x":13,"y":24},{"s":"7.50 EC","x":14,"y":19},{"s":"7.50 EC","x":16,"y":19.5},{"s":"7.50 EC","x":18,"y":20},{"s":"7.50 EC","x":20,"y":18},{"s":"7.50 EC","x":23,"y":19},{"s":"7.50 EC","x":24,"y":17},{"s":"7.50 EC","x":26,"y":17.5},{"s":"7.50 EC","x":28,"y":16},{"s":"7.50 EC","x":30,"y":16.5},{"s":"7.50 EC","x":32,"y":15.8},{"s":"7.50 EC","x":34,"y":16.5},{"s":"7.50 EC","x":36,"y":15.2},{"s":"7.50 EC","x":40,"y":15.5},{"s":"7.50 EC","x":45,"y":16},{"s":"7.50 EC","x":48,"y":15},{"s":"7.50 EC","x":52,"y":15.5},{"s":"7.50 EC","x":56,"y":16},{"s":"7.50 EC","x":58,"y":15},{"s":"7.50 EC","x":62,"y":15.2},{"s":"7.50 EC","x":66,"y":15},{"s":"7.50 EC","x":70,"y":15.5},{"s":"7.50 EC","x":76,"y":14.9},{"s":"7.50 EC","x":100,"y":15},
{"s":"10.00 EC","x":0.5,"y":29},{"s":"10.00 EC","x":1,"y":28},{"s":"10.00 EC","x":2,"y":29},{"s":"10.00 EC","x":3,"y":31},{"s":"10.00 EC","x":7.5,"y":31},{"s":"10.00 EC","x":8.5,"y":21.5},{"s":"10.00 EC","x":10,"y":22.5},{"s":"10.00 EC","x":12,"y":23.5},{"s":"10.00 EC","x":13.5,"y":19.5},{"s":"10.00 EC","x":16,"y":20},{"s":"10.00 EC","x":18,"y":21},{"s":"10.00 EC","x":19,"y":19},{"s":"10.00 EC","x":22,"y":20},{"s":"10.00 EC","x":24,"y":19},{"s":"10.00 EC","x":27,"y":19.8},{"s":"10.00 EC","x":28,"y":19.6},{"s":"10.00 EC","x":29,"y":17},{"s":"10.00 EC","x":32,"y":18.6},{"s":"10.00 EC","x":34,"y":17.2},{"s":"10.00 EC","x":40,"y":18.5},{"s":"10.00 EC","x":44,"y":17.5},{"s":"10.00 EC","x":48,"y":18.8},{"s":"10.00 EC","x":50,"y":17.5},{"s":"10.00 EC","x":56,"y":18.3},{"s":"10.00 EC","x":58,"y":17.2},{"s":"10.00 EC","x":62,"y":17.5},{"s":"10.00 EC","x":66,"y":17.6},{"s":"10.00 EC","x":68,"y":16.6},{"s":"10.00 EC","x":76,"y":17.4},{"s":"10.00 EC","x":100,"y":17}
],
"e":[
{"s":"0.05 EC","x":0.5,"y":-9},{"s":"0.05 EC","x":1.9,"y":-2.3},{"s":"0.05 EC","x":3,"y":-1.1},{"s":"0.05 EC","x":5,"y":-0.5},{"s":"0.05 EC","x":10,"y":-0.6},{"s":"0.05 EC","x":20,"y":-0.5},{"s":"0.05 EC","x":40,"y":-0.4},{"s":"0.05 EC","x":76,"y":-0.4},{"s":"0.05 EC","x":100,"y":-0.4},
{"s":"0.07 EC","x":0.5,"y":-2},{"s":"0.07 EC","x":1.5,"y":-3},{"s":"0.07 EC","x":2.5,"y":-1.5},{"s":"0.07 EC","x":4,"y":-1},{"s":"0.07 EC","x":8,"y":-0.8},{"s":"0.07 EC","x":15,"y":-0.6},{"s":"0.07 EC","x":30,"y":-0.3},{"s":"0.07 EC","x":100,"y":-0.2},
{"s":"0.10 EC","x":0.5,"y":-11},{"s":"0.10 EC","x":1.5,"y":-3},{"s":"0.10 EC","x":2.5,"y":-1.5},{"s":"0.10 EC","x":4,"y":-2},{"s":"0.10 EC","x":6,"y":-1},{"s":"0.10 EC","x":10,"y":-1.5},{"s":"0.10 EC","x":15,"y":-1},{"s":"0.10 EC","x":25,"y":-0.8},{"s":"0.10 EC","x":40,"y":-0.5},{"s":"0.10 EC","x":100,"y":-0.4},
{"s":"0.20 EC","x":0.5,"y":-4.4},{"s":"0.20 EC","x":1.6,"y":-0.6},{"s":"0.20 EC","x":2.2,"y":0.2},{"s":"0.20 EC","x":3,"y":0},{"s":"0.20 EC","x":4.6,"y":1},{"s":"0.20 EC","x":6,"y":0.3},{"s":"0.20 EC","x":10,"y":0.2},{"s":"0.20 EC","x":20,"y":0.5},{"s":"0.20 EC","x":27,"y":0.2},{"s":"0.20 EC","x":40,"y":0.5},{"s":"0.20 EC","x":60,"y":0.5},{"s":"0.20 EC","x":76,"y":0.5},{"s":"0.20 EC","x":100,"y":0.5},
{"s":"0.50 EC","x":0.5,"y":-12},{"s":"0.50 EC","x":1.5,"y":1},{"s":"0.50 EC","x":2.5,"y":-1.5},{"s":"0.50 EC","x":3.5,"y":-2},{"s":"0.50 EC","x":5,"y":-1},{"s":"0.50 EC","x":7,"y":-2},{"s":"0.50 EC","x":10,"y":-1.5},{"s":"0.50 EC","x":20,"y":-1},{"s":"0.50 EC","x":40,"y":-0.5},{"s":"0.50 EC","x":100,"y":-0.5},
{"s":"0.75 EC","x":0.5,"y":-25},{"s":"0.75 EC","x":1.2,"y":-10},{"s":"0.75 EC","x":2,"y":-7},{"s":"0.75 EC","x":3,"y":-6.5},{"s":"0.75 EC","x":4,"y":-7},{"s":"0.75 EC","x":6,"y":-5},{"s":"0.75 EC","x":8,"y":-3.5},{"s":"0.75 EC","x":10,"y":-3},{"s":"0.75 EC","x":12,"y":-2.5},{"s":"0.75 EC","x":15,"y":-2},{"s":"0.75 EC","x":20,"y":-1.5},{"s":"0.75 EC","x":30,"y":-1},{"s":"0.75 EC","x":50,"y":-0.7},{"s":"0.75 EC","x":100,"y":-0.5},
{"s":"1.00 EC","x":0.5,"y":-45},{"s":"1.00 EC","x":1.3,"y":-20},{"s":"1.00 EC","x":1.8,"y":-13.3},{"s":"1.00 EC","x":2.6,"y":-10},{"s":"1.00 EC","x":3.5,"y":-10.3},{"s":"1.00 EC","x":4.6,"y":-6.4},{"s":"1.00 EC","x":5.6,"y":-4.8},{"s":"1.00 EC","x":6.4,"y":-6.1},{"s":"1.00 EC","x":7.2,"y":-4.3},{"s":"1.00 EC","x":8.7,"y":-3.7},{"s":"1.00 EC","x":10,"y":-3.2},{"s":"1.00 EC","x":12,"y":-1.5},{"s":"1.00 EC","x":15,"y":-1.5},{"s":"1.00 EC","x":19,"y":-1.5},{"s":"1.00 EC","x":23,"y":-1},{"s":"1.00 EC","x":27,"y":-0.6},{"s":"1.00 EC","x":40,"y":-0.3},{"s":"1.00 EC","x":60,"y":0},{"s":"1.00 EC","x":76,"y":0.2},{"s":"1.00 EC","x":100,"y":0.2},
{"s":"2.50 EC","x":0.5,"y":-8},{"s":"2.50 EC","x":1.5,"y":1.5},{"s":"2.50 EC","x":2.5,"y":-3},{"s":"2.50 EC","x":3.5,"y":-5},{"s":"2.50 EC","x":5,"y":-4},{"s":"2.50 EC","x":6,"y":0.5},{"s":"2.50 EC","x":7,"y":0},{"s":"2.50 EC","x":8.6,"y":3.5},{"s":"2.50 EC","x":9.5,"y":1},{"s":"2.50 EC","x":11,"y":0.5},{"s":"2.50 EC","x":12,"y":2},{"s":"2.50 EC","x":13,"y":0.5},{"s":"2.50 EC","x":14,"y":2.5},{"s":"2.50 EC","x":15,"y":1.5},{"s":"2.50 EC","x":16,"y":3},{"s":"2.50 EC","x":17,"y":1.5},{"s":"2.50 EC","x":18,"y":3},{"s":"2.50 EC","x":20,"y":2},{"s":"2.50 EC","x":22,"y":3},{"s":"2.50 EC","x":24,"y":2},{"s":"2.50 EC","x":26,"y":3.5},{"s":"2.50 EC","x":28,"y":3},{"s":"2.50 EC","x":30,"y":2.5},{"s":"2.50 EC","x":32,"y":3.3},{"s":"2.50 EC","x":34,"y":2.5},{"s":"2.50 EC","x":36,"y":3.2},{"s":"2.50 EC","x":40,"y":3},{"s":"2.50 EC","x":45,"y":3.5},{"s":"2.50 EC","x":50,"y":3},{"s":"2.50 EC","x":55,"y":3.5},{"s":"2.50 EC","x":60,"y":3.3},{"s":"2.50 EC","x":70,"y":3.7},{"s":"2.50 EC","x":76,"y":3.9},{"s":"2.50 EC","x":100,"y":3.8},
{"s":"5.00 EC","x":0.5,"y":3.5},{"s":"5.00 EC","x":1.5,"y":16},{"s":"5.00 EC","x":2.6,"y":19.5},{"s":"5.00 EC","x":3.4,"y":26},{"s":"5.00 EC","x":4,"y":24},{"s":"5.00 EC","x":4.5,"y":12},{"s":"5.00 EC","x":5,"y":11},{"s":"5.00 EC","x":6.3,"y":17},{"s":"5.00 EC","x":7.4,"y":8},{"s":"5.00 EC","x":8,"y":8.5},{"s":"5.00 EC","x":9.6,"y":15.5},{"s":"5.00 EC","x":11,"y":10.5},{"s":"5.00 EC","x":12.5,"y":12},{"s":"5.00 EC","x":14,"y":16},{"s":"5.00 EC","x":15,"y":12.5},{"s":"5.00 EC","x":17,"y":13.5},{"s":"5.00 EC","x":19,"y":14.5},{"s":"5.00 EC","x":20,"y":13},{"s":"5.00 EC","x":22,"y":14},{"s":"5.00 EC","x":24,"y":12},{"s":"5.00 EC","x":26,"y":13.5},{"s":"5.00 EC","x":27,"y":13},{"s":"5.00 EC","x":29,"y":14.3},{"s":"5.00 EC","x":31,"y":12.3},{"s":"5.00 EC","x":33,"y":13.8},{"s":"5.00 EC","x":35,"y":12.3},{"s":"5.00 EC","x":37,"y":13.5},{"s":"5.00 EC","x":40,"y":12.6},{"s":"5.00 EC","x":45,"y":13.2},{"s":"5.00 EC","x":50,"y":12.5},{"s":"5.00 EC","x":55,"y":13},{"s":"5.00 EC","x":60,"y":12.3},{"s":"5.00 EC","x":65,"y":13},{"s":"5.00 EC","x":70,"y":12.5},{"s":"5.00 EC","x":76,"y":12.4},{"s":"5.00 EC","x":100,"y":12.5},
{"s":"7.50 EC","x":0.5,"y":-15},{"s":"7.50 EC","x":1.5,"y":-5},{"s":"7.50 EC","x":2.5,"y":3},{"s":"7.50 EC","x":3.5,"y":8},{"s":"7.50 EC","x":4.5,"y":12},{"s":"7.50 EC","x":5.5,"y":15},{"s":"7.50 EC","x":6.3,"y":17},{"s":"7.50 EC","x":7,"y":13},{"s":"7.50 EC","x":8,"y":12},{"s":"7.50 EC","x":9.5,"y":15.5},{"s":"7.50 EC","x":11,"y":10.8},{"s":"7.50 EC","x":13,"y":14},{"s":"7.50 EC","x":15,"y":12},{"s":"7.50 EC","x":17,"y":15},{"s":"7.50 EC","x":19,"y":16.5},{"s":"7.50 EC","x":21,"y":14.5},{"s":"7.50 EC","x":23,"y":16.5},{"s":"7.50 EC","x":25,"y":17},{"s":"7.50 EC","x":27,"y":18},{"s":"7.50 EC","x":29,"y":16},{"s":"7.50 EC","x":31,"y":17.5},{"s":"7.50 EC","x":33,"y":19},{"s":"7.50 EC","x":35,"y":16},{"s":"7.50 EC","x":40,"y":17},{"s":"7.50 EC","x":45,"y":17},{"s":"7.50 EC","x":50,"y":16.8},{"s":"7.50 EC","x":55,"y":17.3},{"s":"7.50 EC","x":60,"y":16.8},{"s":"7.50 EC","x":65,"y":17.5},{"s":"7.50 EC","x":70,"y":16.8},{"s":"7.50 EC","x":76,"y":17},{"s":"7.50 EC","x":100,"y":16.5},
{"s":"10.00 EC","x":0.5,"y":27.5},{"s":"10.00 EC","x":1.5,"y":26.5},{"s":"10.00 EC","x":2.5,"y":28},{"s":"10.00 EC","x":3.5,"y":31},{"s":"10.00 EC","x":5,"y":32},{"s":"10.00 EC","x":7,"y":32},{"s":"10.00 EC","x":8.3,"y":21.5},{"s":"10.00 EC","x":10,"y":23.5},{"s":"10.00 EC","x":12,"y":24},{"s":"10.00 EC","x":13,"y":23.5},{"s":"10.00 EC","x":15,"y":20},{"s":"10.00 EC","x":18,"y":22},{"s":"10.00 EC","x":19.5,"y":21.5},{"s":"10.00 EC","x":21,"y":19.5},{"s":"10.00 EC","x":24,"y":20.5},{"s":"10.00 EC","x":26,"y":19},{"s":"10.00 EC","x":27,"y":19.5},{"s":"10.00 EC","x":29,"y":20.3},{"s":"10.00 EC","x":31,"y":18},{"s":"10.00 EC","x":34,"y":19},{"s":"10.00 EC","x":37,"y":18.5},{"s":"10.00 EC","x":38,"y":16.3},{"s":"10.00 EC","x":42,"y":17.5},{"s":"10.00 EC","x":46,"y":18},{"s":"10.00 EC","x":48,"y":17},{"s":"10.00 EC","x":55,"y":17.5},{"s":"10.00 EC","x":58,"y":16.8},{"s":"10.00 EC","x":62,"y":17.8},{"s":"10.00 EC","x":66,"y":17},{"s":"10.00 EC","x":70,"y":18},{"s":"10.00 EC","x":72,"y":17},{"s":"10.00 EC","x":76,"y":17},{"s":"10.00 EC","x":100,"y":17}
]
},
"vconcat":[
{"width":828,"height":153,"title":{"text":"(a) Blackscholes."},"data":{"name":"a"},
"encoding":{
"x":{"field":"x","type":"quantitative","scale":{"domain":[0,100],"nice":false},"axis":{"values":[0,20,40,60,80,100],"title":"Execution Cycle","labelPadding":3,"titlePadding":2,"labelFlush":false,"labelAlign":{"condition":{"test":"datum.value == 100","value":"right"},"value":"center"}}},
"y":{"field":"y","type":"quantitative","scale":{"domain":[-20,30],"nice":false,"zero":false},"axis":{"values":[-20,-10,0,10,20,30],"labelExpr":"datum.value + '%'","title":"Error wrt allocation","labelPadding":13,"titlePadding":7,"labelFlush":false,"labelBaseline":{"condition":{"test":"datum.value == 30","value":"top"},"value":"middle"}}},
"color":{"field":"s","type":"nominal","scale":{"domain":["0.05 EC","0.07 EC","0.10 EC","0.20 EC","0.50 EC","0.75 EC","1.00 EC","2.50 EC","5.00 EC","7.50 EC","10.00 EC"],"range":["#000000","#111111","#333333","#008000","#444444","#555555","#ff0000","#777777","#999999","#aaaaaa","#cccccc"]},"legend":{"title":null,"symbolStrokeWidth":{"expr":"indexof(['0.20 EC','1.00 EC'], datum.value) >= 0 ? 4.5 : 2"}}},
"strokeWidth":{"field":"s","type":"ordinal","scale":{"domain":["0.05 EC","0.07 EC","0.10 EC","0.20 EC","0.50 EC","0.75 EC","1.00 EC","2.50 EC","5.00 EC","7.50 EC","10.00 EC"],"range":[1,1,1,2,1,1,2.6,1,1,1,1]},"legend":null}
},
"layer":[
{"transform":[{"filter":{"not":{"field":"s","oneOf":["0.20 EC","1.00 EC"]}}}],"mark":{"type":"line","clip":true,"interpolate":"monotone"}},
{"transform":[{"filter":{"field":"s","oneOf":["0.20 EC","1.00 EC"]}}],"mark":{"type":"line","clip":true,"interpolate":"monotone"}}
]},
{"width":828,"height":153,"title":{"text":"(b) Bodytrack."},"data":{"name":"b"},
"encoding":{
"x":{"field":"x","type":"quantitative","scale":{"domain":[0,100],"nice":false},"axis":{"values":[0,20,40,60,80,100],"title":"Execution Cycle","labelPadding":3,"titlePadding":2,"labelFlush":false,"labelAlign":{"condition":{"test":"datum.value == 100","value":"right"},"value":"center"}}},
"y":{"field":"y","type":"quantitative","scale":{"domain":[-20,30],"nice":false,"zero":false},"axis":{"values":[-20,-10,0,10,20,30],"labelExpr":"datum.value + '%'","title":"Error wrt allocation","labelPadding":13,"titlePadding":7,"labelFlush":false,"labelBaseline":{"condition":{"test":"datum.value == 30","value":"top"},"value":"middle"}}},
"color":{"field":"s","type":"nominal","scale":{"domain":["0.05 EC","0.07 EC","0.10 EC","0.20 EC","0.50 EC","0.75 EC","1.00 EC","2.50 EC","5.00 EC","7.50 EC","10.00 EC"],"range":["#000000","#111111","#333333","#008000","#444444","#555555","#ff0000","#777777","#999999","#aaaaaa","#cccccc"]},"legend":{"title":null,"symbolStrokeWidth":{"expr":"indexof(['0.20 EC','1.00 EC'], datum.value) >= 0 ? 4.5 : 2"}}},
"strokeWidth":{"field":"s","type":"ordinal","scale":{"domain":["0.05 EC","0.07 EC","0.10 EC","0.20 EC","0.50 EC","0.75 EC","1.00 EC","2.50 EC","5.00 EC","7.50 EC","10.00 EC"],"range":[1,1,1,2,1,1,2.6,1,1,1,1]},"legend":null}
},
"layer":[
{"transform":[{"filter":{"not":{"field":"s","oneOf":["0.20 EC","1.00 EC"]}}}],"mark":{"type":"line","clip":true,"interpolate":"monotone"}},
{"transform":[{"filter":{"field":"s","oneOf":["0.20 EC","1.00 EC"]}}],"mark":{"type":"line","clip":true,"interpolate":"monotone"}}
]},
{"width":828,"height":153,"title":{"text":"(c) Ferret."},"data":{"name":"c"},
"encoding":{
"x":{"field":"x","type":"quantitative","scale":{"domain":[0,100],"nice":false},"axis":{"values":[0,20,40,60,80,100],"title":"Execution Cycle","labelPadding":3,"titlePadding":2,"labelFlush":false,"labelAlign":{"condition":{"test":"datum.value == 100","value":"right"},"value":"center"}}},
"y":{"field":"y","type":"quantitative","scale":{"domain":[-20,30],"nice":false,"zero":false},"axis":{"values":[-20,-10,0,10,20,30],"labelExpr":"datum.value + '%'","title":"Error wrt allocation","labelPadding":13,"titlePadding":7,"labelFlush":false,"labelBaseline":{"condition":{"test":"datum.value == 30","value":"top"},"value":"middle"}}},
"color":{"field":"s","type":"nominal","scale":{"domain":["0.05 EC","0.07 EC","0.10 EC","0.20 EC","0.50 EC","0.75 EC","1.00 EC","2.50 EC","5.00 EC","7.50 EC","10.00 EC"],"range":["#000000","#111111","#333333","#008000","#444444","#555555","#ff0000","#777777","#999999","#aaaaaa","#cccccc"]},"legend":{"title":null,"symbolStrokeWidth":{"expr":"indexof(['0.20 EC','1.00 EC'], datum.value) >= 0 ? 4.5 : 2"}}},
"strokeWidth":{"field":"s","type":"ordinal","scale":{"domain":["0.05 EC","0.07 EC","0.10 EC","0.20 EC","0.50 EC","0.75 EC","1.00 EC","2.50 EC","5.00 EC","7.50 EC","10.00 EC"],"range":[1,1,1,2,1,1,2.6,1,1,1,1]},"legend":null}
},
"layer":[
{"transform":[{"filter":{"not":{"field":"s","oneOf":["0.20 EC","1.00 EC"]}}}],"mark":{"type":"line","clip":true,"interpolate":"monotone"}},
{"transform":[{"filter":{"field":"s","oneOf":["0.20 EC","1.00 EC"]}}],"mark":{"type":"line","clip":true,"interpolate":"monotone"}}
]},
{"width":828,"height":153,"title":{"text":"(d) Fluidanimate."},"data":{"name":"d"},
"encoding":{
"x":{"field":"x","type":"quantitative","scale":{"domain":[0,100],"nice":false},"axis":{"values":[0,20,40,60,80,100],"title":"Execution Cycle","labelPadding":3,"titlePadding":2,"labelFlush":false,"labelAlign":{"condition":{"test":"datum.value == 100","value":"right"},"value":"center"}}},
"y":{"field":"y","type":"quantitative","scale":{"domain":[-20,30],"nice":false,"zero":false},"axis":{"values":[-20,-10,0,10,20,30],"labelExpr":"datum.value + '%'","title":"Error wrt allocation","labelPadding":13,"titlePadding":7,"labelFlush":false,"labelBaseline":{"condition":{"test":"datum.value == 30","value":"top"},"value":"middle"}}},
"color":{"field":"s","type":"nominal","scale":{"domain":["0.05 EC","0.07 EC","0.10 EC","0.20 EC","0.50 EC","0.75 EC","1.00 EC","2.50 EC","5.00 EC","7.50 EC","10.00 EC"],"range":["#000000","#111111","#333333","#008000","#444444","#555555","#ff0000","#777777","#999999","#aaaaaa","#cccccc"]},"legend":{"title":null,"symbolStrokeWidth":{"expr":"indexof(['0.20 EC','1.00 EC'], datum.value) >= 0 ? 4.5 : 2"}}},
"strokeWidth":{"field":"s","type":"ordinal","scale":{"domain":["0.05 EC","0.07 EC","0.10 EC","0.20 EC","0.50 EC","0.75 EC","1.00 EC","2.50 EC","5.00 EC","7.50 EC","10.00 EC"],"range":[1,1,1,2,1,1,2.6,1,1,1,1]},"legend":null}
},
"layer":[
{"transform":[{"filter":{"not":{"field":"s","oneOf":["0.20 EC","1.00 EC"]}}}],"mark":{"type":"line","clip":true,"interpolate":"monotone"}},
{"transform":[{"filter":{"field":"s","oneOf":["0.20 EC","1.00 EC"]}}],"mark":{"type":"line","clip":true,"interpolate":"monotone"}}
]},
{"width":828,"height":153,"title":{"text":"(e) Streamcluster."},"data":{"name":"e"},
"encoding":{
"x":{"field":"x","type":"quantitative","scale":{"domain":[0,100],"nice":false},"axis":{"values":[0,20,40,60,80,100],"title":"Execution Cycle","labelPadding":3,"titlePadding":2,"labelFlush":false,"labelAlign":{"condition":{"test":"datum.value == 100","value":"right"},"value":"center"}}},
"y":{"field":"y","type":"quantitative","scale":{"domain":[-20,30],"nice":false,"zero":false},"axis":{"values":[-20,-10,0,10,20,30],"labelExpr":"datum.value + '%'","title":"Error wrt allocation","labelPadding":13,"titlePadding":7,"labelFlush":false,"labelBaseline":{"condition":{"test":"datum.value == 30","value":"top"},"value":"middle"}}},
"color":{"field":"s","type":"nominal","scale":{"domain":["0.05 EC","0.07 EC","0.10 EC","0.20 EC","0.50 EC","0.75 EC","1.00 EC","2.50 EC","5.00 EC","7.50 EC","10.00 EC"],"range":["#000000","#111111","#333333","#008000","#444444","#555555","#ff0000","#777777","#999999","#aaaaaa","#cccccc"]},"legend":{"title":null,"symbolStrokeWidth":{"expr":"indexof(['0.20 EC','1.00 EC'], datum.value) >= 0 ? 4.5 : 2"}}},
"strokeWidth":{"field":"s","type":"ordinal","scale":{"domain":["0.05 EC","0.07 EC","0.10 EC","0.20 EC","0.50 EC","0.75 EC","1.00 EC","2.50 EC","5.00 EC","7.50 EC","10.00 EC"],"range":[1,1,1,2,1,1,2.6,1,1,1,1]},"legend":null}
},
"layer":[
{"transform":[{"filter":{"not":{"field":"s","oneOf":["0.20 EC","1.00 EC"]}}}],"mark":{"type":"line","clip":true,"interpolate":"monotone"}},
{"transform":[{"filter":{"field":"s","oneOf":["0.20 EC","1.00 EC"]}}],"mark":{"type":"line","clip":true,"interpolate":"monotone"}}
]}
]
}
